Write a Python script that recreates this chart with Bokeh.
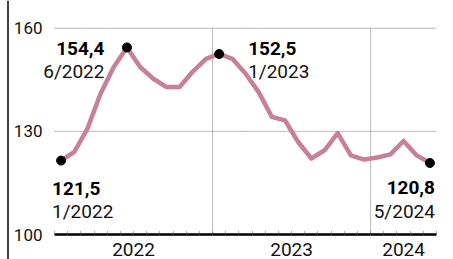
from bokeh.plotting import figure
from bokeh.models import FixedTicker, BoxAnnotation, Label
from bokeh.embed import file_html
from bokeh.resources import INLINE

# ---- data ----
months = ["1/2022", "2/2022", "3/2022", "4/2022", "5/2022", "6/2022",
          "7/2022", "8/2022", "9/2022", "10/2022", "11/2022", "12/2022",
          "1/2023", "2/2023", "3/2023", "4/2023", "5/2023", "6/2023",
          "7/2023", "8/2023", "9/2023", "10/2023", "11/2023", "12/2023",
          "1/2024", "2/2024", "3/2024", "4/2024", "5/2024"]
values = [121.5, 124.0, 130.8, 141.0, 148.7, 154.4,
          148.7, 145.3, 142.9, 142.9, 147.4, 151.1,
          152.5, 151.1, 146.8, 141.4, 134.2, 133.2,
          126.9, 122.1, 124.5, 129.5, 123.0, 121.8,
          122.4, 123.3, 127.2, 123.0, 120.8]
years = ["2022", "2023", "2024"]
y_ticks = [100, 130, 160]
highlights = ["1/2022", "6/2022", "1/2023", "5/2024"]

FONT = "Roboto"
LINE_COLOR = "#c8809a"
W, H = 453, 259

# ---- layout (pixels) ----
PLOT_L, PLOT_R = 54, 436      # where the month band starts / ends
PLOT_T, PLOT_B = 27.7, 234    # where the top tick / bottom tick sit

idx = list(range(len(months)))
month_year = [m.split("/")[1] for m in months]
month_num = [int(m.split("/")[0]) for m in months]

x0, x1 = -0.5, len(months) - 0.5
ppx = (PLOT_R - PLOT_L) / (x1 - x0)
ppy = (PLOT_B - PLOT_T) / (y_ticks[-1] - y_ticks[0])
x_range = (x0 - PLOT_L / ppx, x1 + (W - PLOT_R) / ppx)
y_range = (y_ticks[0] - (H - PLOT_B) / ppy, y_ticks[-1] + PLOT_T / ppy)

p = figure(width=W, height=H, x_range=x_range, y_range=y_range,
           min_border=0, output_backend="svg", toolbar_location=None)
p.outline_line_color = None
p.background_fill_color = "white"
p.border_fill_color = "white"
p.xgrid.visible = False
p.ygrid.visible = False

# x axis: year labels centred on each year's months, minor ticks at month boundaries
year_centers = []
for yr in years:
    ii = [i for i in idx if month_year[i] == yr]
    year_centers.append((ii[0] + ii[-1]) / 2)
boundaries = [i - 0.5 for i in range(len(months) + 1)]
xa = p.xaxis[0]
xa.fixed_location = y_ticks[0]
xa.bounds = (x0, x1)
xa.ticker = FixedTicker(ticks=year_centers, minor_ticks=boundaries)
xa.major_label_overrides = {float(c): y for c, y in zip(year_centers, years)}
xa.major_tick_in = 0
xa.major_tick_out = 0
xa.minor_tick_in = 4
xa.minor_tick_out = 0
xa.minor_tick_line_color = "#555"
xa.minor_tick_line_dash = "1 1"
xa.axis_line_width = 2.5
xa.axis_line_color = "black"
xa.major_label_text_font = FONT
xa.major_label_text_font_size = "19px"
xa.major_label_text_color = "#111"
xa.major_label_standoff = 8

ya = p.yaxis[0]
ya.fixed_location = x0
ya.ticker = FixedTicker(ticks=y_ticks)
ya.axis_line_color = None
ya.major_tick_line_color = None
ya.minor_tick_line_color = None
ya.major_label_text_font = FONT
ya.major_label_text_font_size = "17px"
ya.major_label_text_color = "#111"
ya.major_label_standoff = 6

# dotted horizontal grid lines
grid_vals = [t for t in y_ticks if t > y_ticks[0]]
p.segment(x0=[x0] * len(grid_vals), y0=grid_vals, x1=[x1] * len(grid_vals), y1=grid_vals,
          line_color="#777", line_dash="1 1", line_width=1)

# year separators
year_starts = [i - 0.5 for i in idx if month_num[i] == 1 and i > 0]
p.segment(x0=year_starts, y0=[y_ticks[0]] * len(year_starts),
          x1=year_starts, y1=[y_ticks[-1]] * len(year_starts),
          line_color="#777", line_dash="1 1", line_width=1)

# left border
p.add_layout(BoxAnnotation(left=6.75, right=8.25, top=0, bottom=H,
                           left_units="canvas", right_units="canvas",
                           top_units="canvas", bottom_units="canvas",
                           fill_color="black", fill_alpha=1, line_alpha=0))

# series
p.line(idx, values, line_color=LINE_COLOR, line_width=4.5, line_join="round")
hi = [months.index(m) for m in highlights]
p.scatter([idx[i] for i in hi], [values[i] for i in hi], size=9, color="black")

# annotations: (align, x_off, px below dot for value baseline, px below dot for date baseline)
label_style = {
    "1/2022": ("left", -9, 28, 51),
    "6/2022": ("right", -22.5, 1, 24.5),
    "1/2023": ("left", 29, -5.4, 18),
    "5/2024": ("right", 5, 24.7, 48.5),
}
for m in highlights:
    i = months.index(m)
    align, xo, yv, yd = label_style[m]
    p.add_layout(Label(x=idx[i], y=values[i], text=f"{values[i]:.1f}".replace(".", ","),
                       text_font=FONT, text_font_style="bold", text_font_size="19px",
                       text_color="#000", text_align=align, text_baseline="alphabetic",
                       x_offset=xo, y_offset=-yv))
    p.add_layout(Label(x=idx[i], y=values[i], text=m,
                       text_font=FONT, text_font_size="19px",
                       text_color="#111", text_align=align, text_baseline="alphabetic",
                       x_offset=xo, y_offset=-yd))

open("out.html", "w").write(file_html(p, INLINE))
